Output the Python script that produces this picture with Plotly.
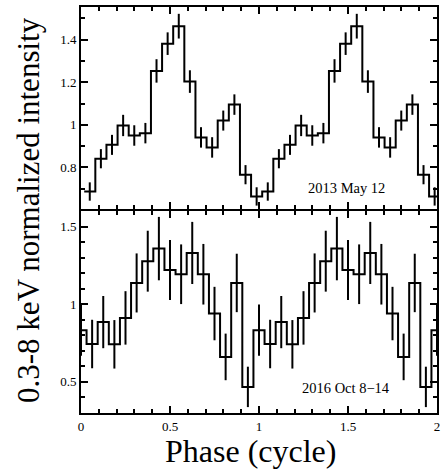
import plotly.graph_objects as go

# ---- data (one folded cycle, 16 phase bins; shown twice) ----
top_values = [0.687, 0.841, 0.906, 0.997, 0.950, 0.961, 1.253, 1.381,
              1.463, 1.203, 0.941, 0.894, 1.020, 1.095, 0.766, 0.664]
top_errors = [0.043, 0.045, 0.047, 0.050, 0.048, 0.048, 0.055, 0.053,
              0.058, 0.053, 0.048, 0.048, 0.047, 0.048, 0.045, 0.043]
bottom_values = [0.833, 0.744, 0.885, 0.742, 0.912, 1.137, 1.277, 1.358,
                 1.220, 1.193, 1.330, 1.193, 0.940, 0.661, 1.137, 0.468]
bottom_errors = [0.165, 0.156, 0.168, 0.156, 0.172, 0.190, 0.196, 0.204,
                 0.193, 0.192, 0.200, 0.195, 0.172, 0.150, 0.188, 0.130]
n_bins = 16
top_phase_offset = 0.018      # start of first bin (top light curve)
bottom_phase_offset = -1/32   # bins centred on k/16 (bottom light curve)
top_label = "2013 May 12"
bottom_label = "2016 Oct 8\u221214"
x_title = "Phase (cycle)"
y_title = "0.3-8 keV normalized intensity"

FONT = "Liberation Serif"
w = 1.0 / n_bins
CLEAR = "rgba(0,0,0,0)"

fig = go.Figure()

# top panel: 2 cycles
tv = top_values + top_values
te = top_errors + top_errors
t_edges = [top_phase_offset + k * w for k in range(len(tv) + 1)]
t_centers = [top_phase_offset + (k + 0.5) * w for k in range(len(tv))]
fig.add_trace(go.Scatter(x=t_edges, y=tv + [tv[-1]], mode="lines",
                         line=dict(shape="hv", color="black", width=2),
                         xaxis="x2", yaxis="y2", showlegend=False, hoverinfo="skip"))
fig.add_trace(go.Scatter(x=t_centers, y=tv, mode="markers",
                         marker=dict(size=2, color=CLEAR, line=dict(width=0)),
                         error_y=dict(type="data", array=te, width=0, thickness=2, color="black"),
                         xaxis="x2", yaxis="y2", showlegend=False))

# bottom panel: 2 cycles + wrap-around bin
bv = bottom_values + bottom_values + bottom_values[:1]
be = bottom_errors + bottom_errors + bottom_errors[:1]
b_edges = [bottom_phase_offset + k * w for k in range(len(bv) + 1)]
b_centers = [bottom_phase_offset + (k + 0.5) * w for k in range(len(bv))]
fig.add_trace(go.Scatter(x=b_edges, y=bv + [bv[-1]], mode="lines",
                         line=dict(shape="hv", color="black", width=2),
                         xaxis="x", yaxis="y", showlegend=False, hoverinfo="skip"))
fig.add_trace(go.Scatter(x=b_centers, y=bv, mode="markers",
                         marker=dict(size=2, color=CLEAR, line=dict(width=0)),
                         error_y=dict(type="data", array=be, width=0, thickness=2, color="black"),
                         xaxis="x", yaxis="y", showlegend=False))

axis_common = dict(showline=True, linecolor="black", linewidth=2, mirror="ticks",
                   ticks="inside", tickcolor="black", tickwidth=1.5, showgrid=False,
                   zeroline=False, automargin=False,
                   tickfont=dict(family=FONT, size=13, color="black"))
x_minor = [0.1, 0.2, 0.3, 0.4, 0.6, 0.7, 0.8, 0.9, 1.1, 1.2, 1.3, 1.4, 1.6, 1.7, 1.8, 1.9]

PLOT_H = 470 - 7 - 57
gap = 1.0 / PLOT_H  # 1px each side so the two frame lines coincide

fig.update_layout(
    template="none",
    width=441, height=470,
    margin=dict(l=81, r=4, t=7, b=57),
    paper_bgcolor="white", plot_bgcolor="white",
    font=dict(family=FONT, color="black"),
    xaxis=dict(domain=[0, 1], anchor="y", range=[0, 2], tickvals=[0, 0.5, 1, 1.5, 2],
               ticktext=["0", "0.5", "1", "1.5", "2"], ticklen=7,
               minor=dict(tickvals=x_minor, ticks="inside", ticklen=4,
                          tickcolor="black", tickwidth=1.5),
               **axis_common),
    xaxis2=dict(domain=[0, 1], anchor="y2", range=[0, 2], matches="x", showticklabels=False,
                tickvals=[0, 0.5, 1, 1.5, 2], ticklen=7,
                minor=dict(tickvals=x_minor, ticks="inside", ticklen=4,
                           tickcolor="black", tickwidth=1.5),
                **axis_common),
    yaxis=dict(domain=[0, 0.5 - gap], anchor="x", range=[0.3, 1.6],
               tickvals=[0.5, 1, 1.5], ticktext=["0.5", "1", "1.5"], ticklen=7,
               minor=dict(tickvals=[0.4, 0.6, 0.7, 0.8, 0.9, 1.1, 1.2, 1.3, 1.4, 1.6],
                          ticks="inside", ticklen=4, tickcolor="black", tickwidth=1.5),
               **axis_common),
    yaxis2=dict(domain=[0.5 + gap, 1], anchor="x2", range=[0.605, 1.553],
                tickvals=[0.8, 1, 1.2, 1.4], ticktext=["0.8", "1", "1.2", "1.4"], ticklen=7,
                minor=dict(tickvals=[0.7, 0.9, 1.1, 1.3, 1.5],
                           ticks="inside", ticklen=4, tickcolor="black", tickwidth=1.5),
                **axis_common),
    annotations=[
        dict(text=top_label, xref="paper", yref="paper", x=0.746, y=0.554,
             xanchor="center", yanchor="middle",
             showarrow=False, font=dict(family=FONT, size=14.5, color="black")),
        dict(text=bottom_label, xref="paper", yref="paper", x=0.743, y=0.062,
             xanchor="center", yanchor="middle",
             showarrow=False, font=dict(family=FONT, size=14.5, color="black")),
        dict(text=x_title, xref="paper", yref="paper", x=0.477, y=-0.093,
             xanchor="center", yanchor="middle", showarrow=False,
             font=dict(family=FONT, size=32, color="black")),
        dict(text=y_title, xref="paper", yref="paper", x=-0.149, y=0.5,
             xanchor="center", yanchor="middle", textangle=-90, showarrow=False,
             font=dict(family=FONT, size=31, color="black")),
    ],
)

fig.write_html("out.html")
